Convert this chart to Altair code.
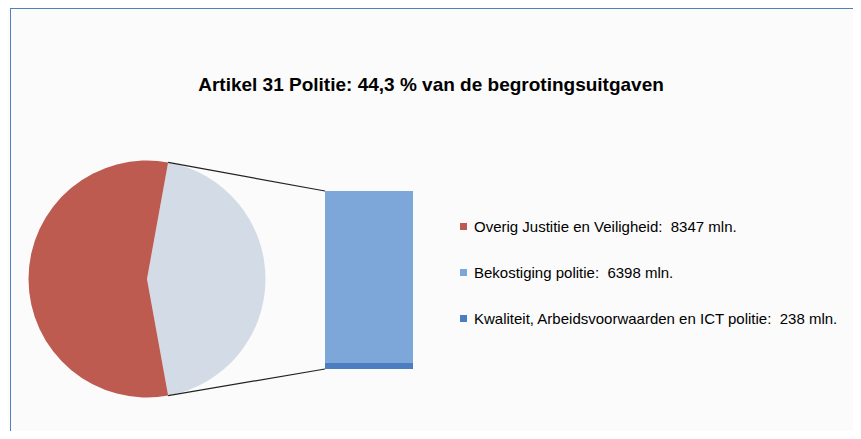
import math
import altair as alt
import pandas as pd

# ---- data ----
title_text = "Artikel 31 Politie: 44,3 % van de begrotingsuitgaven"
categories = [
    "Overig Justitie en Veiligheid",
    "Bekostiging politie",
    "Kwaliteit, Arbeidsvoorwaarden en ICT politie",
]
values = [8347, 6398, 238]
unit = "mln."
combined_name = "Politie"

labels = [f"{c}:\u00a0 {v} {unit}" for c, v in zip(categories, values)]
politie_total = values[1] + values[2]
total = values[0] + politie_total

# ---- style / layout ----
colors = ["#BE5B50", "#7DA7D8", "#4A7EC1", "#D2DBE6"]
domain = labels + [combined_name]
W, H = 845, 423
cx, cy, r = 139, 271, 118.5
bar_x1, bar_x2 = 317, 405
bar_top, bar_bottom = 183, 361
frame_color = "#4F81BD"
font = "Liberation Sans"

frac = politie_total / total
start = math.pi / 2 - math.pi * frac
end = start + 2 * math.pi * frac
top_pt = (cx + r * math.sin(start), cy - r * math.cos(start))
bot_pt = (cx + r * math.sin(end), cy - r * math.cos(end))

color_scale = alt.Scale(domain=domain, range=colors)
bar_scale = alt.Scale(domain=[0, politie_total], range=[bar_bottom, bar_top], nice=False, zero=True)

pie_df = pd.DataFrame({
    "label": [combined_name, labels[0]],
    "value": [politie_total, values[0]],
    "ord": [0, 1],
})
bar_df = pd.DataFrame({
    "label": [labels[1], labels[2]],
    "value": [values[1], values[2]],
    "ord": [1, 0],
})
one = pd.DataFrame({"v": [politie_total], "z": [0]})

pie = alt.Chart(pie_df).mark_arc(outerRadius=r).encode(
    theta=alt.Theta("value:Q", stack=True,
                    scale=alt.Scale(range=[start, start + 2 * math.pi])),
    color=alt.Color(
        "label:N", scale=color_scale,
        legend=alt.Legend(
            values=labels, orient="none", legendX=448, legendY=211,
            title=None, symbolType="square", symbolSize=49,
            symbolStrokeWidth=0, labelFontSize=15, labelFont=font,
            labelColor="black", rowPadding=30, labelLimit=600,
            padding=0, labelOffset=3,
        ),
    ),
    order=alt.Order("ord:Q"),
    x=alt.value(cx), y=alt.value(cy),
)

bar = alt.Chart(bar_df).transform_stack(
    stack="value", groupby=[], as_=["lo", "hi"],
    sort=[alt.SortField("ord", order="ascending")],
).mark_rect().encode(
    y=alt.Y("lo:Q", scale=bar_scale, axis=None),
    y2=alt.Y2("hi:Q"),
    color=alt.Color("label:N", scale=color_scale),
    x=alt.value(bar_x1), x2=alt.value(bar_x2),
)

line_top = alt.Chart(one).mark_rule(color="#222", strokeWidth=1.2).encode(
    y=alt.Y("v:Q", scale=bar_scale, axis=None),
    y2=alt.value(top_pt[1]),
    x=alt.value(bar_x1), x2=alt.value(top_pt[0]),
)
line_bot = alt.Chart(one).mark_rule(color="#222", strokeWidth=1.2).encode(
    y=alt.Y("z:Q", scale=bar_scale, axis=None),
    y2=alt.value(bot_pt[1]),
    x=alt.value(bar_x1), x2=alt.value(bot_pt[0]),
)

frame_left = alt.Chart(one).mark_rule(color=frame_color, strokeWidth=1).encode(
    x=alt.value(2.5), y=alt.value(0), y2=alt.value(H))
frame_top = alt.Chart(one).mark_rule(color=frame_color, strokeWidth=1).encode(
    x=alt.value(2), x2=alt.value(W), y=alt.value(0.5))

title = alt.Chart(one).mark_text(
    font=font, fontSize=19, fontWeight="bold", color="black",
    align="center", baseline="alphabetic",
).encode(x=alt.value(W / 2 + 0.5), y=alt.value(83), text=alt.value(title_text))

chart = alt.layer(frame_left, frame_top, pie, line_top, line_bot, bar, title).properties(
    width=W, height=H,
    autosize=alt.AutoSizeParams(type="none"),
    padding=0,
    background="#FBFBFB",
).configure_view(strokeWidth=0)

chart.save("out.html", embed_options={"renderer": "svg", "actions": False})
